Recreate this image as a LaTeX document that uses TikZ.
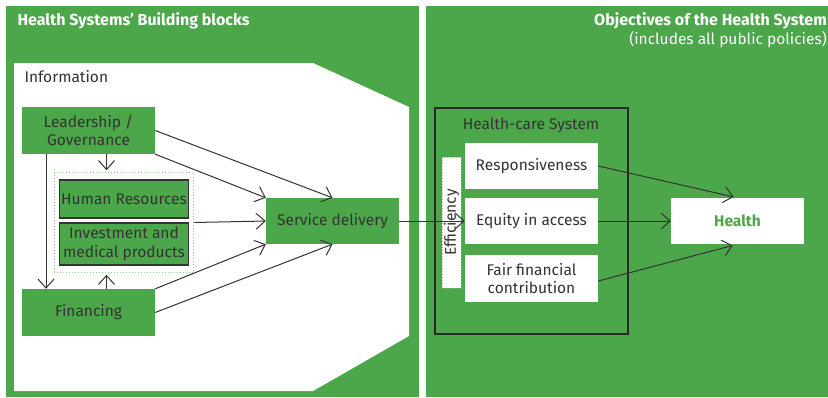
\documentclass[tikz,border=0pt]{standalone}
\usepackage{fontspec}
\setmainfont{Fira Sans}
\usetikzlibrary{arrows.meta,fit}
\definecolor{hsgreen}{HTML}{4CA64A}
\definecolor{hstext}{HTML}{333333}
\definecolor{hsdot}{HTML}{8FD08C}
\tikzset{
  gbox/.style={fill=hsgreen, text=hstext, minimum width=133pt, minimum height=46pt,
    inner sep=0pt, align=center},
  wbox/.style={fill=white, text=hstext, minimum width=133pt, minimum height=46pt,
    inner sep=0pt, align=center},
  rbox/.style={gbox, draw=hstext, line width=1.5pt, minimum width=129pt},
  hsarrow/.style={-{Straight Barb[length=9pt,width=16pt]}, line width=1pt, draw=hstext}
}

\begin{document}
\begin{tikzpicture}[x=1pt, y=-1pt, font=\fontsize{15.5}{18.5}\selectfont]
    \useasboundingbox[fill=white] (0,0) rectangle (828,397);
    % the two panels
    \fill[hsgreen] (6,6) rectangle (419,397);
    \fill[hsgreen] (426,6) rectangle (850,397);
    \node[anchor=base west, text=white, font=\fontsize{16}{19}\selectfont\bfseries]
        (tleft) at (14,25) {Health Systems’ Building blocks};
    \node[anchor=base east, text=white, font=\fontsize{16}{19}\selectfont\bfseries,
        inner xsep=0pt] (tright) at (827,25) {Objectives of the Health System};
    \node[anchor=base east, text=white, inner xsep=0pt] (tsub) at (827,44) {(includes all public policies)};

    % building blocks
    \fill[white] (14,63) -- (313,63) -- (409,107) -- (409,336) -- (313,391) -- (14,391) -- cycle;
    \node[anchor=base west, text=hstext] (info) at (21,82) {Information};
    \node[gbox, minimum height=47pt] (lead) at (88.5,130.5) {Leadership /\\Governance};
    \node[rbox, minimum height=38pt] (hr) at (124,199) {Human Resources};
    \node[rbox, minimum height=42pt] (inv) at (124,244) {Investment and\\medical products};
    \node[draw=hsdot, dotted, line width=1pt, inner xsep=4.5pt, inner ysep=6.5pt,
        fit=(hr)(inv)] (group) {};
    \node[gbox, minimum height=47pt] (fin) at (88.5,312.5) {Financing};
    \node[gbox] (serv) at (332.5,221) {Service delivery};

    \coordinate (gtop) at ([xshift=-17.5pt]group.north);
    \coordinate (gbot) at ([xshift=-17.5pt]group.south);
    \coordinate (lx) at ([xshift=-42.5pt]lead.south);
    \draw[hsarrow, shorten >=2pt] (lead.south -| gtop) -- (gtop);
    \draw[hsarrow, shorten >=2pt] (fin.north -| gbot) -- (gbot);
    \draw[hsarrow] (lx) -- (lx |- fin.north);
    \draw[hsarrow] (lead.east) -- (serv.north);
    \draw[hsarrow] (lead.south east) -- (serv.north west);
    \draw[hsarrow] (group.east) -- (serv.west);
    \draw[hsarrow] (fin.north east) -- (serv.south west);
    \draw[hsarrow] (fin.east) -- (serv.south);

    % objectives
    \draw[line width=2.5pt, draw=hstext!80!black] (435,108) rectangle (628,334);
    \node[text=hstext] (hcs) at (531,125) {Health-care System};
    \node[fill=white, draw=gray!60, dotted, line width=1pt, rotate=90, text=hstext,
        minimum width=131pt, minimum height=19pt, inner sep=0pt] (eff) at (451.5,222.5) {Efficiency};
    \node[wbox] (resp) at (531.5,166) {Responsiveness};
    \node[wbox] (eq) at (531.5,221) {Equity in access};
    \node[wbox, minimum height=47pt] (fair) at (531.5,278.5) {Fair financial\\contribution};
    \node[wbox, text=hsgreen, font=\fontsize{15.5}{18.5}\selectfont\bfseries] (health) at (737.5,221) {Health};

    \draw[hsarrow] (serv.east) -- (eq.west);
    \draw[hsarrow, shorten >=4pt] (resp.east) -- (health.north);
    \draw[hsarrow] (eq.east) -- (health.west);
    \draw[hsarrow, shorten >=5pt] ([yshift=-2.5pt]fair.east) -- (health.south);
\end{tikzpicture}
\end{document}
